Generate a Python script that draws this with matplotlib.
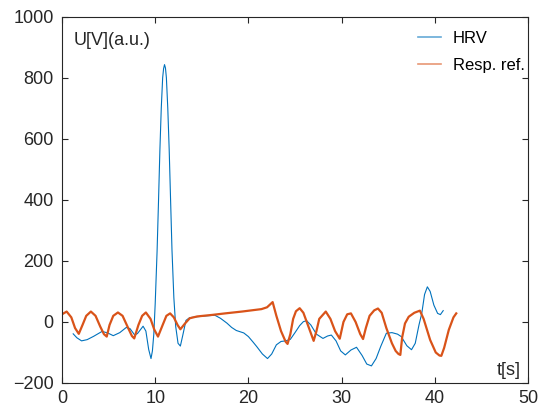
import numpy as np
import matplotlib
matplotlib.use('Agg')
import matplotlib.pyplot as plt

# HRV signal (blue)
hrv_t = [1.2, 1.6, 2.1, 2.7, 3.4, 4.3, 4.9, 5.5, 6.2, 6.9, 7.3, 7.8, 8.1, 8.7, 9.0,
         9.3, 9.55, 9.7, 9.85, 10.0, 10.2, 10.35, 10.5, 10.65, 10.8, 10.9, 11.0,
         11.1, 11.2, 11.35, 11.5, 11.65, 11.8, 12.0, 12.2, 12.45, 12.7, 12.95,
         13.3, 13.7, 14.5, 15.5, 16.4, 17.0, 17.7, 18.2, 18.7, 19.5, 20.0, 20.5,
         20.9, 21.5, 22.05, 22.5, 23.0, 23.5, 24.0, 24.5, 25.0, 25.5, 25.9, 26.25,
         26.7, 27.3, 28.0, 28.5, 28.9, 29.4, 29.9, 30.4, 31.0, 31.6, 32.2, 32.7,
         33.2, 33.7, 34.2, 34.8, 35.4, 36.0, 36.4, 37.0, 37.5, 37.9, 38.3, 38.6,
         38.9, 39.2, 39.5, 39.9, 40.3, 40.6, 40.9]
hrv_u = [-39, -52, -62, -58, -47, -31, -36, -45, -35, -18, -22, -43, -38, -14, -30,
         -90, -120, -95, -40, 60, 230, 390, 560, 700, 800, 830, 843,
         832, 800, 700, 565, 400, 236, 80, -15, -70, -79, -45,
         5, 14, 17, 20, 22, 12, -4, -18, -28, -36, -48, -66,
         -81, -105, -120, -105, -75, -64, -62, -57, -35, -12, 1, 4,
         -10, -40, -54, -46, -43, -62, -95, -108, -92, -83, -110, -138,
         -144, -120, -80, -37, -35, -40, -48, -78, -91, -70, -10, 28,
         90, 115, 100, 55, 28, 24, 37]

# respiration reference (orange)
resp_t = [0.0, 0.5, 1.0, 1.4, 1.8, 2.2, 2.6, 3.1, 3.6, 4.1, 4.5, 4.8, 5.1, 5.5, 6.0,
          6.5, 7.1, 7.5, 7.75, 8.2, 8.6, 9.0, 9.5, 9.9, 10.3, 10.8, 11.2, 11.6,
          12.0, 12.4, 12.7, 13.2, 13.7, 14.5, 16.1, 17.5, 19.3, 21.4, 22.0, 22.6,
          23.0, 23.5, 24.0, 24.2, 24.5, 24.8, 25.1, 25.5, 25.9, 26.5, 27.0, 27.3,
          27.6, 28.3, 28.8, 29.3, 29.8, 30.2, 30.6, 31.0, 31.5, 32.0, 32.3, 32.6,
          33.0, 33.5, 33.9, 34.3, 34.8, 35.4, 35.8, 36.1, 36.3, 36.5, 36.8, 37.2,
          37.8, 38.4, 38.8, 39.5, 40.1, 40.5, 40.7, 41.0, 41.5, 42.0, 42.3]
resp_u = [25, 34, 15, -20, -39, -10, 20, 34, 20, -15, -40, -48, -10, 20, 31,
          20, -20, -46, -54, -10, 20, 31, 10, -25, -48, -10, 20, 28,
          15, -10, -24, -5, 12, 18, 23, 28, 34, 42, 48, 65,
          20, -30, -65, -72, -40, 10, 35, 45, 30, -20, -62, -30,
          10, 34, 10, -30, -55, 0, 25, 28, 0, -40, -56, -20,
          20, 38, 44, 30, -20, -70, -95, -105, -108, -50, -5, 17,
          30, 37, 10, -59, -100, -110, -111, -85, -26, 15, 28]

plt.rcParams['font.family'] = ['Liberation Sans', 'DejaVu Sans']

fig = plt.figure(figsize=(5.41, 4.09), dpi=100)
ax = fig.add_axes([0.1146, 0.0636, 0.8614, 0.8956])

ax.plot(hrv_t, hrv_u, color='#0072BD', lw=0.8, label='HRV')
ax.plot(resp_t, resp_u, color='#D95319', lw=1.6, label='Resp. ref.')

ax.set_xlim(0, 50)
ax.set_ylim(-200, 1000)
ax.set_xticks([0, 10, 20, 30, 40, 50])
ax.set_yticks([-200, 0, 200, 400, 600, 800, 1000])

for s in ax.spines.values():
    s.set_color('#262626')
    s.set_linewidth(0.8)
ax.tick_params(direction='in', length=4, width=0.8, colors='#262626',
               top=True, right=True, labelsize=13)
ax.tick_params(axis='y', pad=6)
ax.tick_params(axis='x', pad=5)

ax.text(0.024, 0.935, 'U[V](a.u.)', transform=ax.transAxes, fontsize=13,
        ha='left', va='center', color='#262626')
ax.text(0.933, 0.035, 't[s]', transform=ax.transAxes, fontsize=13,
        ha='left', va='center', color='#262626')

leg = ax.legend(loc='upper left', bbox_to_anchor=(0.745, 0.985), frameon=False,
                fontsize=12, handlelength=1.4, handletextpad=0.7,
                labelspacing=0.75, borderpad=0)
for line in leg.get_lines():
    line.set_alpha(0.6)
    line.set_linewidth(1.2)

fig.savefig('out.png', dpi=100)
